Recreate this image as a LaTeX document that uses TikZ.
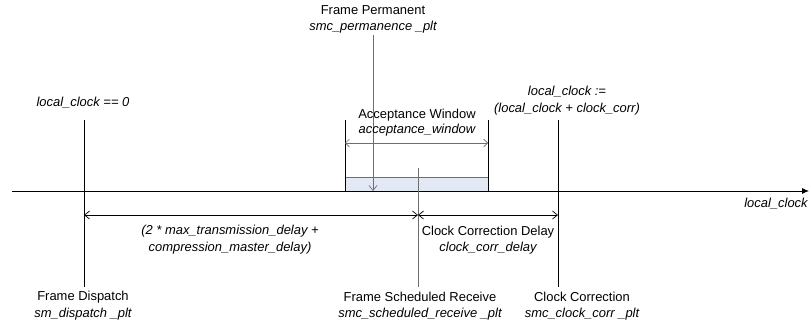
\documentclass[tikz,border=0pt]{standalone}
\usepackage{fontspec}
\setmainfont{Liberation Sans}
\usetikzlibrary{arrows.meta}
\definecolor{winfill}{RGB}{226,233,245}
\definecolor{lgray}{RGB}{110,110,110}
\tikzset{
  lbl/.style={inner sep=0pt, font=\fontsize{13}{17}\selectfont, align=center, text=black},
  ilbl/.style={lbl, font=\fontsize{13}{17}\selectfont\itshape},
  blk/.style={draw=black, line width=0.9pt},
  gry/.style={draw=lgray, line width=0.9pt},
  otip/.style={Straight Barb[length=5pt,width=8pt,line width=0.7pt]},
}
\begin{document}
\begin{tikzpicture}[x=1bp,y=-1bp]
\useasboundingbox (0,0) rectangle (811,323);
% coordinates
\coordinate (tl0) at (12,191);
\coordinate (tl1) at (809,191);
\coordinate (d0) at (84,120);
\coordinate (d1) at (84,287);
\coordinate (c0) at (558,120);
\coordinate (c1) at (558,287);
\coordinate (p0) at (373,35);
\coordinate (p1) at (373,191);
\coordinate (s0) at (418,168);
\coordinate (s1) at (418,287);
\coordinate (wl0) at (345,120);
\coordinate (wl1) at (345,191);
\coordinate (wr0) at (488,120);
\coordinate (wr1) at (488,191);
\coordinate (wa) at (345,143);
\coordinate (wb) at (488,143);
\coordinate (da) at (84,215);
\coordinate (db) at (418,215);
\coordinate (dc) at (558,215);
% window box
\filldraw[fill=winfill, draw=lgray, line width=0.8pt] (345,177) rectangle (488,191);
% timeline
\draw[blk, -{Latex[length=7pt,width=6pt]}] (tl0) -- (tl1);
% verticals
\draw[blk] (d0) -- (d1);
\draw[blk] (c0) -- (c1);
\draw[blk] (wl0) -- (wl1);
\draw[blk] (wr0) -- (wr1);
\draw[gry, -{Straight Barb[length=5pt,width=8pt,line width=0.7pt]}] (p0) -- (p1);
\draw[gry] (s0) -- (s1);
% dimension arrows
\draw[gry, {Straight Barb[length=4pt,width=8pt,line width=0.7pt]}-{Straight Barb[length=4pt,width=8pt,line width=0.7pt]}] (wa) -- (wb);
\draw[blk, {Straight Barb[length=5pt,width=8pt,line width=0.7pt]}-{Straight Barb[length=5pt,width=8pt,line width=0.7pt]}] (da) -- (db);
\draw[blk, {Straight Barb[length=5pt,width=8pt,line width=0.7pt]}-{Straight Barb[length=5pt,width=8pt,line width=0.7pt]}] (db) -- (dc);
% labels
\node[lbl] (fp) at (373,10) {Frame Permanent};
\node[ilbl] (fpv) at (373,27) {smc\_permanence \_plt};
\node[ilbl] (lc0) at (83,103) {local\_clock == 0};
\node[lbl] (aw) at (417,115) {Acceptance Window};
\node[ilbl] (awv) at (417,130) {acceptance\_window};
\node[ilbl] (lcc) at (567,101) {local\_clock :=\\(local\_clock + clock\_corr)};
\node[ilbl] (lcl) at (776,204) {local\_clock};
\node[ilbl] (tx) at (230,240) {(2 * max\_transmission\_delay +\\compression\_master\_delay)};
\node[lbl] (ccd) at (488,232) {Clock Correction Delay};
\node[ilbl] (ccdv) at (488,248) {clock\_corr\_delay};
\node[lbl] (fd) at (83,297) {Frame Dispatch};
\node[ilbl] (fdv) at (83,314) {sm\_dispatch \_plt};
\node[lbl] (fs) at (420,297) {Frame Scheduled Receive};
\node[ilbl] (fsv) at (420,314) {smc\_scheduled\_receive \_plt};
\node[lbl] (cc) at (582,297) {Clock Correction};
\node[ilbl] (ccv) at (582,314) {smc\_clock\_corr \_plt};
\end{tikzpicture}
\end{document}
